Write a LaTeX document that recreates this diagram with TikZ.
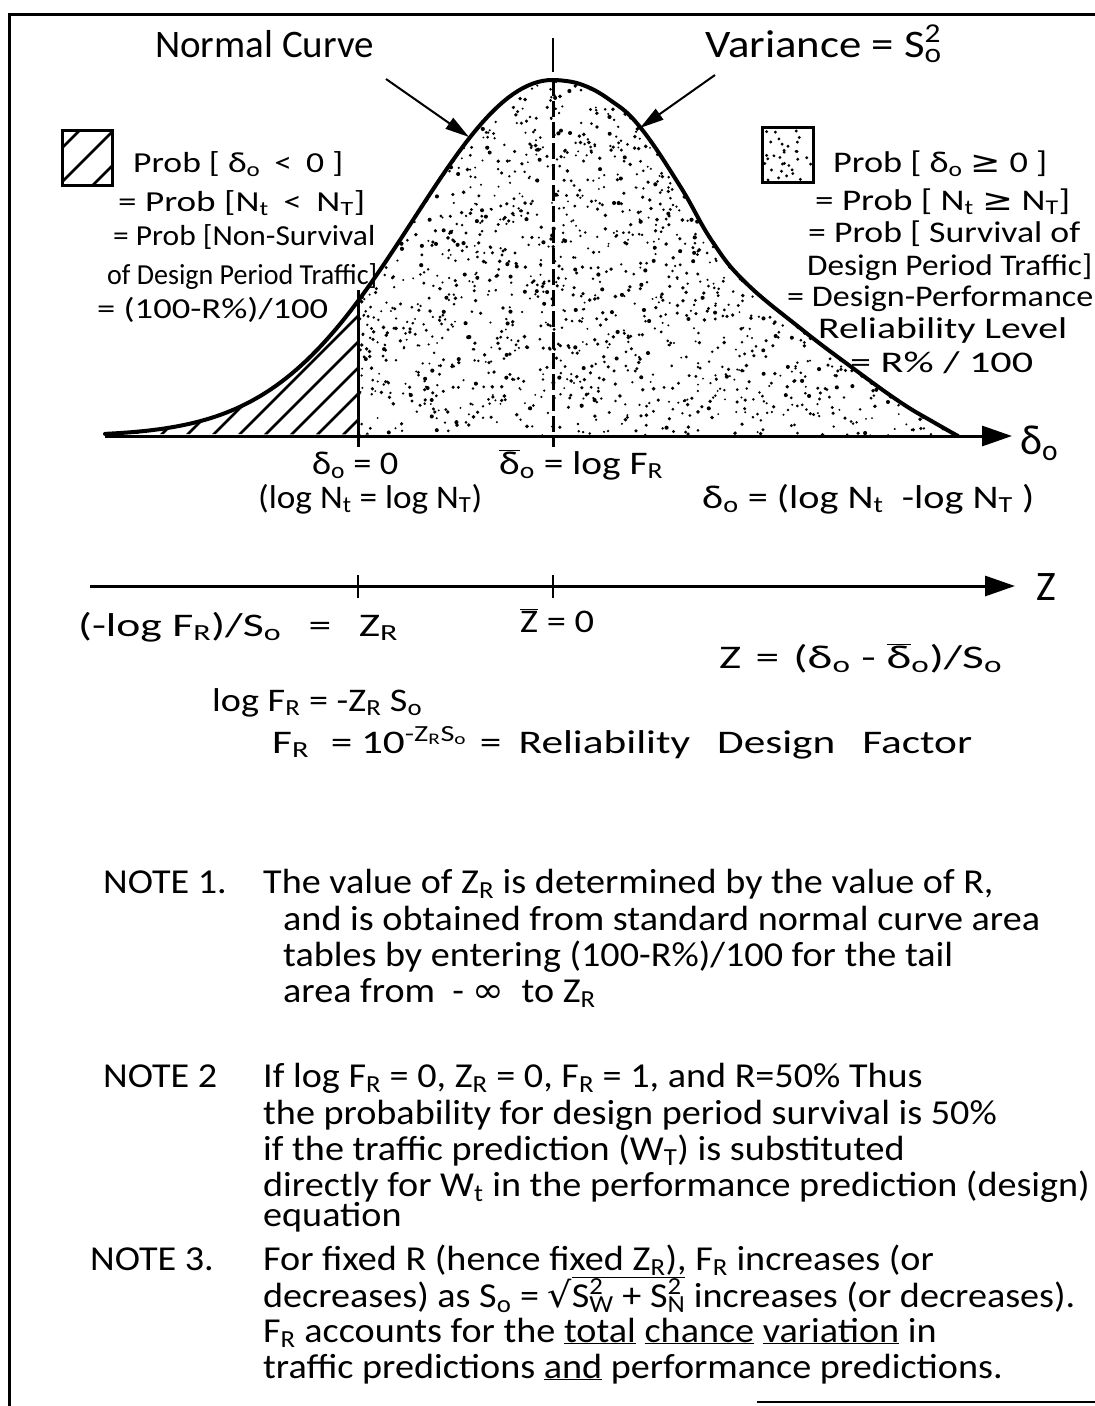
\RequirePackage{fix-cm}
\documentclass[tikz,border=0pt]{standalone}
\usepackage{graphicx}
\usepackage{fontspec}
\setmainfont{Carlito}
\newfontfamily\symf{DejaVu Sans}
\usetikzlibrary{arrows.meta}
\newcommand\so{\textsubscript{o}}
\newcommand\sbs[1]{\textsubscript{#1}}
\newcommand\dbar{$\overline{\mbox{δ}}$\textsubscript{o}}
\newcommand\zbar{$\overline{\mbox{Z}}$}
\newcommand\mn{-}
\newcommand\fw[2]{\resizebox{#1pt}{\height}{#2}}
\newcommand\ns[1]{\scalebox{1.09}[1]{#1}}
\def\curvepath{plot[domain=105:553,samples=90] (\x,{436-356*exp(-0.5*((\x-553)/140)^2)}) -- plot[smooth, tension=0.7] coordinates {(553,80) (580,84) (610,100) (640,127) (680,186) (712,241) (745,282) (800,328) (850,366) (900,402) (935,423) (958,436)}}
\begin{document}
\begin{tikzpicture}[x=1pt,y=-1pt,
  toplbl/.style={anchor=base west, inner sep=0pt, font=\fontsize{39}{42}\selectfont},
  lblk/.style={anchor=base west, inner sep=0pt, font=\fontsize{29}{32}\selectfont},
  rblk/.style={anchor=base west, inner sep=0pt, font=\fontsize{30}{32}\selectfont},
  lbl/.style={anchor=base west, inner sep=0pt, font=\fontsize{33}{36}\selectfont},
  note/.style={anchor=base west, inner sep=0pt, font=\fontsize{35}{37}\selectfont},
  axislbl/.style={anchor=base west, inner sep=0pt, font=\fontsize{42}{44}\selectfont},
  axisline/.style={line width=3pt, -{Triangle[length=30pt,width=20pt]}},
  annot/.style={line width=2pt, -{Triangle[length=24pt,width=13pt]}},
  framel/.style={line width=3pt},
  keybox/.style={draw, line width=3pt, minimum width=50pt, minimum height=55pt, inner sep=0pt},
  dot/.style={fill=black}
]
\useasboundingbox (0,0) rectangle (1095,1406);
\fill[white] (0,0) rectangle (1095,1406);

% frame
\coordinate (fTR) at (1095,14);
\coordinate (fTL) at (9,14);
\coordinate (fBL) at (9,1406);
\coordinate (fB1) at (757,1402);
\coordinate (fB2) at (1095,1402);
\draw[framel] (fTR) -- (fTL) -- (fBL);
\draw[line width=2.5pt] (fB1) -- (fB2);

% stippled region (right of delta=0)
\begin{scope}
  \clip (358,60) rectangle (1000,436);
  \clip \curvepath -- cycle;
  \pgfmathsetseed{11}
  \foreach \i in {1,...,2300}{
    \pgfmathsetmacro\px{358+600*rnd}
    \pgfmathsetmacro\py{78+358*rnd}
    \pgfmathsetmacro\pr{1.0+1.1*rnd}
    \fill[dot] (\px,\py) circle[radius=\pr];
  }
\end{scope}

% hatched region (left of delta=0)
\begin{scope}
  \clip (90,200) rectangle (358,440);
  \clip \curvepath -- cycle;
  \foreach \a in {-260,-234,...,360} \draw[line width=2.5pt] (\a,440) -- ++(260,-260);
\end{scope}

% normal curve
\draw[line width=4pt, line join=round, line cap=round] \curvepath;

% delta axis
\coordinate (dL) at (105,436);
\coordinate (dR) at (1012,436);
\draw[axisline] (dL) -- (dR);
\node[axislbl] (dlab) at (1020,454) {δ\so};

% delta = 0 line and mean line
\coordinate (zt) at (358,290);
\coordinate (zb) at (358,447);
\draw[line width=3pt] (zt) -- (zb);
\coordinate (mt) at (553,38);
\coordinate (mm) at (553,72);
\coordinate (mp) at (553,80);
\coordinate (mb) at (553,447);
\draw[line width=2.5pt] (mt) -- (mm);
\draw[line width=3pt, dash pattern=on 16pt off 5pt] (mp) -- (mb);

% top labels and arrows
\node[toplbl] (nclab) at (155,57) {Normal Curve};
\node[toplbl] (varlab) at (705,57) {\fw{250}{Variance = S\rlap{\textsuperscript{2}}\textsubscript{o}\hspace{0.3em}}};
\coordinate (ncS) at (386,79);
\coordinate (ncT) at (469,137);
\draw[annot] (ncS) -- (ncT);
\coordinate (vS) at (715,75);
\coordinate (vT) at (640,128);
\draw[annot] (vS) -- (vT);

% legend keys
\begin{scope}
  \clip (62,130) rectangle (112,185);
  \foreach \c in {210,244,278} \draw[line width=2.5pt] (\c-200,200) -- (\c,0);
\end{scope}
\node[keybox] (hkey) at (87,157.5) {};
\begin{scope}
  \clip (762,127) rectangle (813,182);
  \pgfmathsetseed{5}
  \foreach \i in {1,...,32}{
    \pgfmathsetmacro\px{764+47*rnd}
    \pgfmathsetmacro\py{129+51*rnd}
    \fill[dot] (\px,\py) circle[radius=1.6];
  }
\end{scope}
\node[keybox, minimum width=51pt] (skey) at (787.5,154.5) {};

% left block
\node[lblk] (l1) at (133,172) {\fw{210}{Prob [ δ\so{} \,<\, 0 ]}};
\node[lblk] (l2) at (118,211) {\fw{247}{= Prob [N\sbs{t} \,<\, N\sbs{T}]}};
\node[lblk] (l3) at (113,245) {\fw{262}{= Prob [Non-Survival}};
\node[lblk] (l4) at (107,284) {\fw{270}{of Design Period Traffic]}};
\node[lblk] (l5) at (97,318) {\fw{231}{= (100\mn R\%)/100}};

% right block
\node[rblk] (r1) at (833,172) {\fw{214}{Prob [ δ\so{} {\symf ≥} 0 ]}};
\node[rblk] (r2) at (815,210) {\fw{255}{= Prob [ N\sbs{t} {\symf ≥} N\sbs{T}]}};
\node[rblk] (r3) at (808,242) {\fw{272}{= Prob [ Survival of}};
\node[rblk] (r4) at (807,275) {\fw{285}{Design Period Traffic]}};
\node[rblk] (r5) at (787,306) {\fw{306}{= Design-Performance}};
\node[rblk] (r6) at (818,338) {\fw{249}{Reliability Level}};
\node[rblk] (r7) at (850,372) {\fw{183}{= R\% / 100}};

% labels under delta axis
\node[lbl] (d0) at (312,474) {\fw{86}{δ\so{} = 0}};
\node[lbl] (dmean) at (499,474) {\fw{164}{\dbar{} = log F\sbs{R}}};
\node[lbl] (lnt) at (258,508) {\fw{224}{(log N\sbs{t} = log N\sbs{T})}};
\node[lbl] (ddef) at (702,508) {\fw{332}{δ\so{} = (log N\sbs{t} \ \mn{}log N\sbs{T} )}};

% z axis
\coordinate (zL) at (90,586);
\coordinate (zR) at (1015,586);
\draw[axisline] (zL) -- (zR);
\node[axislbl] (zlab) at (1036,600) {Z};
\coordinate (zt1) at (358,575);
\coordinate (zb1) at (358,598);
\draw[line width=2.5pt] (zt1) -- (zb1);
\coordinate (zt2) at (553,575);
\coordinate (zb2) at (553,598);
\draw[line width=2.5pt] (zt2) -- (zb2);

\node[lbl] (zr) at (78,636) {\fw{320}{(\mn log F\sbs{R})/S\so{}\hspace{0.6em}=\hspace{0.6em}Z\sbs{R}}};
\node[lbl] (zm) at (520,632) {\fw{74}{\zbar{} = 0}};
\node[lbl] (zdef) at (719,668) {\fw{283}{Z\hspace{0.3em}=\hspace{0.3em}(δ\so{} \mn{} \dbar)/S\so}};
\node[lbl] (lfr) at (212,711) {\fw{210}{log F\sbs{R} = \mn Z\sbs{R} S\so}};
\node[lbl] (fr) at (272,753) {\fw{700}{F\sbs{R}\hspace{0.5em}=\hspace{0.2em}10\textsuperscript{\mn Z\sbs{R}S\so}\hspace{0.3em}=\hspace{0.4em}Reliability\hspace{0.4em} Design\hspace{0.4em} Factor}};

% notes
\node[note] (n1) at (103,893) {\ns{NOTE 1.}};
\node[note] (n1a) at (263,893) {\ns{The value of Z\sbs{R} is determined by the value of R,}};
\node[note] (n1b) at (283,930) {\ns{and is obtained from standard normal curve area}};
\node[note] (n1c) at (283,966) {\ns{tables by entering (100-R\%)/100 for the tail}};
\node[note] (n1d) at (283,1002) {\ns{area from \ - {\symf ∞} \ to Z\sbs{R}}};

\node[note] (n2) at (103,1087) {\ns{NOTE 2}};
\node[note] (n2a) at (263,1087) {\ns{If log F\sbs{R} = 0, Z\sbs{R} = 0, F\sbs{R} = 1, and R=50\% Thus}};
\node[note] (n2b) at (263,1124) {\ns{the probability for design period survival is 50\%}};
\node[note] (n2c) at (263,1160) {\ns{if the traffic prediction (W\sbs{T}) is substituted}};
\node[note] (n2d) at (263,1196) {\ns{directly for W\sbs{t} in the performance prediction (design)}};
\node[note] (n2e) at (263,1226) {\ns{equation}};

\node[note] (n3) at (90,1270) {\ns{NOTE 3.}};
\node[note] (n3a) at (263,1270) {\ns{For fixed R (hence fixed Z\sbs{R}), F\sbs{R} increases (or}};
\node[note] (n3b) at (263,1307) {\ns{decreases) as S\so{} = {\symf √}$\overline{\mbox{S\rlap{\textsuperscript{2}}\textsubscript{W} + S\rlap{\textsuperscript{2}}\textsubscript{N}}}$ increases (or decreases).}};
\node[note] (n3c) at (263,1342) {\ns{F\sbs{R} accounts for the \underline{total} \underline{chance} \underline{variation} in}};
\node[note] (n3d) at (263,1378) {\ns{traffic predictions \underline{and} performance predictions.}};
\end{tikzpicture}
\end{document}
